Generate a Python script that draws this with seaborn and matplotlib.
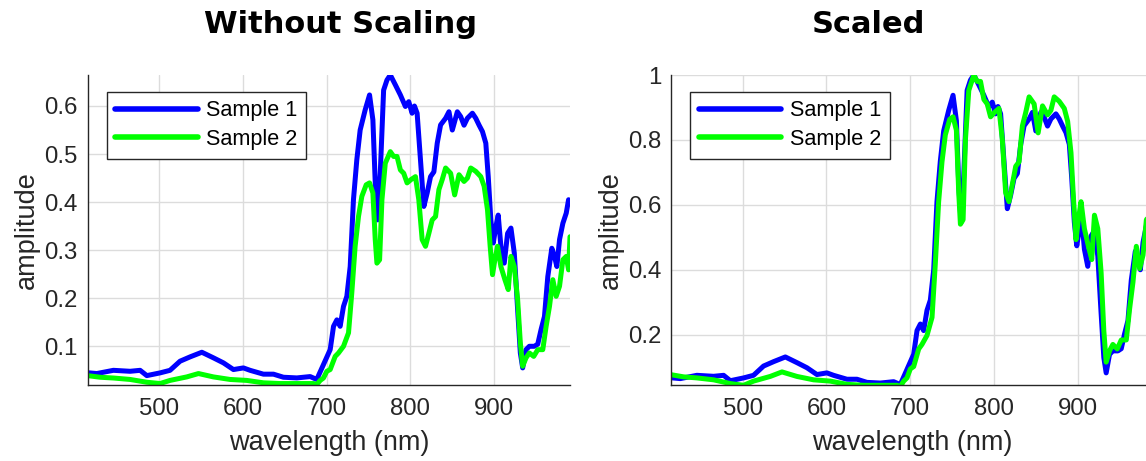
import numpy as np
import pandas as pd
import matplotlib
matplotlib.use("Agg")
import matplotlib.pyplot as plt
from matplotlib.ticker import FuncFormatter
import seaborn as sns

# ---------------- data ----------------
wavelength_1 = [414.5, 425.6, 445.4, 465.4, 477.3, 485.3, 501.2, 513, 525, 537, 551, 564.8,
                576.8, 588.7, 600.6, 608.6, 624.5, 636.5, 648.4, 664.4, 680.3, 688.2, 696.2,
                704.2, 708.2, 712.2, 716.1, 720.1, 724.1, 728.1, 732, 736, 740, 746, 751.2,
                755.2, 758, 760.8, 764, 768, 772, 776, 782, 788, 794, 798, 802, 804.8, 808,
                812, 816, 820, 824, 828, 832, 836, 842, 846, 850, 856, 860, 864, 868, 874,
                878, 882, 886, 890, 892.9, 896, 898.9, 902, 904.8, 908, 912, 916, 920, 924,
                928, 931.2, 934, 938, 942, 948, 952, 956, 960, 964, 968.8, 972, 974.8, 978,
                982, 986, 988.8, 990.5]
sample_1 = [0.045, 0.0433, 0.050, 0.048, 0.050, 0.039, 0.0447, 0.050, 0.069, 0.078, 0.0876, 0.076,
            0.0655, 0.0516, 0.055, 0.050, 0.042, 0.042, 0.0356, 0.0342, 0.037, 0.031, 0.062,
            0.093, 0.1416, 0.155, 0.1416, 0.183, 0.204, 0.266, 0.405, 0.488, 0.550, 0.592, 0.623,
            0.571, 0.44, 0.363, 0.46, 0.633, 0.654, 0.6645, 0.644, 0.623, 0.599, 0.609, 0.585, 0.6, 0.585,
            0.488, 0.391, 0.419, 0.453, 0.463, 0.5226, 0.5606, 0.5745, 0.588, 0.55, 0.588, 0.578, 0.560, 0.5745, 0.585,
            0.5745, 0.560, 0.5467, 0.5226, 0.453, 0.363, 0.315, 0.349, 0.373, 0.308, 0.273, 0.335, 0.346, 0.294,
            0.176, 0.0863, 0.055, 0.093, 0.1, 0.1, 0.1045, 0.135, 0.162, 0.245, 0.304, 0.287, 0.266, 0.322,
            0.356, 0.377, 0.405, 0.397]

wavelength_2 = [414.5, 429.6, 445.4, 465.4, 485.3, 501.2, 513, 533, 547, 564.8, 584.7, 604.6,
                624.5, 644.4, 664.4, 684.3, 688.2, 692.3, 696.2, 700.2, 704.2, 710.2, 714.1,
                720.1, 726.1, 730, 734, 738, 742, 747.2, 751.2, 755.2, 758, 760, 763.2, 766,
                770, 776, 780, 784, 788, 792, 796, 800.8, 806, 810, 814, 818, 822, 826, 830,
                834, 838, 842, 848, 852.8, 858, 864, 868, 872, 878, 884, 888, 892, 895.2, 898,
                900.8, 904, 908, 912.8, 916.8, 920, 924, 928, 931.2, 934, 938, 942, 947.2, 952,
                958, 962, 966, 970, 974, 978, 982, 986, 988.8, 990.5]
sample_2 = [0.039, 0.0356, 0.034, 0.031, 0.0252, 0.0225, 0.029, 0.0363, 0.0433, 0.0363, 0.031, 0.029,
            0.024, 0.0225, 0.0225, 0.0225, 0.0205, 0.029, 0.034, 0.048, 0.0516, 0.079, 0.086,
            0.1, 0.128, 0.211, 0.308, 0.370, 0.412, 0.436, 0.44, 0.419, 0.322, 0.273, 0.28, 0.405,
            0.481, 0.505, 0.495, 0.495, 0.467, 0.46, 0.44, 0.447, 0.453, 0.405, 0.322, 0.308, 0.335, 0.363, 0.370,
            0.426, 0.447, 0.471, 0.46, 0.415, 0.457, 0.443, 0.45, 0.471, 0.464, 0.453, 0.433, 0.384, 0.308, 0.249,
            0.28, 0.308, 0.266, 0.2386, 0.218, 0.287, 0.266, 0.197, 0.107, 0.0585, 0.076, 0.086, 0.079, 0.093,
            0.093, 0.1416, 0.183, 0.2386, 0.204, 0.225, 0.28, 0.287, 0.259, 0.328]

series_labels = ["Sample 1", "Sample 2"]
panel_titles = ["Without Scaling", "Scaled"]
left_yticks = [0.1, 0.2, 0.3, 0.4, 0.5, 0.6]
right_yticks = [0.2, 0.4, 0.6, 0.8, 1.0]
xticks = [500, 600, 700, 800, 900]

# ---------------- style ----------------
sns.set_style("white")
plt.rcParams["font.family"] = ["Liberation Sans", "DejaVu Sans"]

W, H = 1146, 461
fig = plt.figure(figsize=(W / 100, H / 100), dpi=100)

TXT = "#262626"
GRID = "#dcdcdc"
colors = ["#0000ff", "#00ff00"]

ax_w = 482.5 / W
ax_h = 309.5 / H
ax_b = (H - 384.5) / H
ax1 = fig.add_axes([87.5 / W, ax_b, ax_w, ax_h])
ax2 = fig.add_axes([671.0 / W, ax_b, ax_w, ax_h])

s1 = np.array(sample_1)
s2 = np.array(sample_2)
datasets = [
    (ax1, s1, s2),
    (ax2, s1 / s1.max(), s2 / s2.max()),
]

for ax, y1, y2 in datasets:
    sns.lineplot(x=wavelength_1, y=y1, ax=ax, color=colors[0], lw=3.6,
                 label=series_labels[0], sort=False, estimator=None)
    sns.lineplot(x=wavelength_2, y=y2, ax=ax, color=colors[1], lw=3.6,
                 label=series_labels[1], sort=False, estimator=None)
    ax.set_xlim(min(wavelength_1), max(wavelength_1))
    ax.set_xticks(xticks)
    ax.grid(True, color=GRID, lw=1.0)
    ax.set_axisbelow(True)
    for side in ["top", "right"]:
        ax.spines[side].set_visible(False)
    for side in ["left", "bottom"]:
        ax.spines[side].set_color(TXT)
        ax.spines[side].set_linewidth(1.0)
    ax.tick_params(axis="both", direction="in", length=4, width=1.0, color=TXT,
                   labelcolor=TXT, labelsize=17.3)
    ax.tick_params(axis="x", pad=10)
    ax.tick_params(axis="y", pad=7)
    ax.yaxis.set_major_formatter(FuncFormatter(lambda v, p: "%g" % round(v, 3)))
    ax.set_xlabel("wavelength (nm)", fontsize=19.5, color=TXT, labelpad=7)
    ax.set_ylabel("amplitude", fontsize=19.5, color=TXT, labelpad=3)
    leg = ax.legend(loc="upper left", bbox_to_anchor=(19.2 / 482.5, 1 - 16.7 / 309.5),
                    borderaxespad=0, fontsize=15.6, handlelength=3.8, handletextpad=0.4,
                    borderpad=0.4, labelspacing=0.35, fancybox=False, framealpha=1,
                    edgecolor=TXT)
    leg.get_frame().set_linewidth(1.0)
    for line in leg.get_lines():
        line.set_linewidth(4.0)
    for t in leg.get_texts():
        t.set_color("black")

ax1.set_ylim(min(s1.min(), s2.min()), max(s1.max(), s2.max()))
ax1.set_yticks(left_yticks)
ax2.set_ylim(0.047, 1.0)
ax2.set_yticks(right_yticks)

fig.text(340 / W, 1 - 33 / H, panel_titles[0], ha="center", va="baseline",
         fontsize=22, fontweight="bold", family="DejaVu Sans", color="black")
fig.text(868 / W, 1 - 33 / H, panel_titles[1], ha="center", va="baseline",
         fontsize=22, fontweight="bold", family="DejaVu Sans", color="black")

fig.savefig("out.png", dpi=100)
